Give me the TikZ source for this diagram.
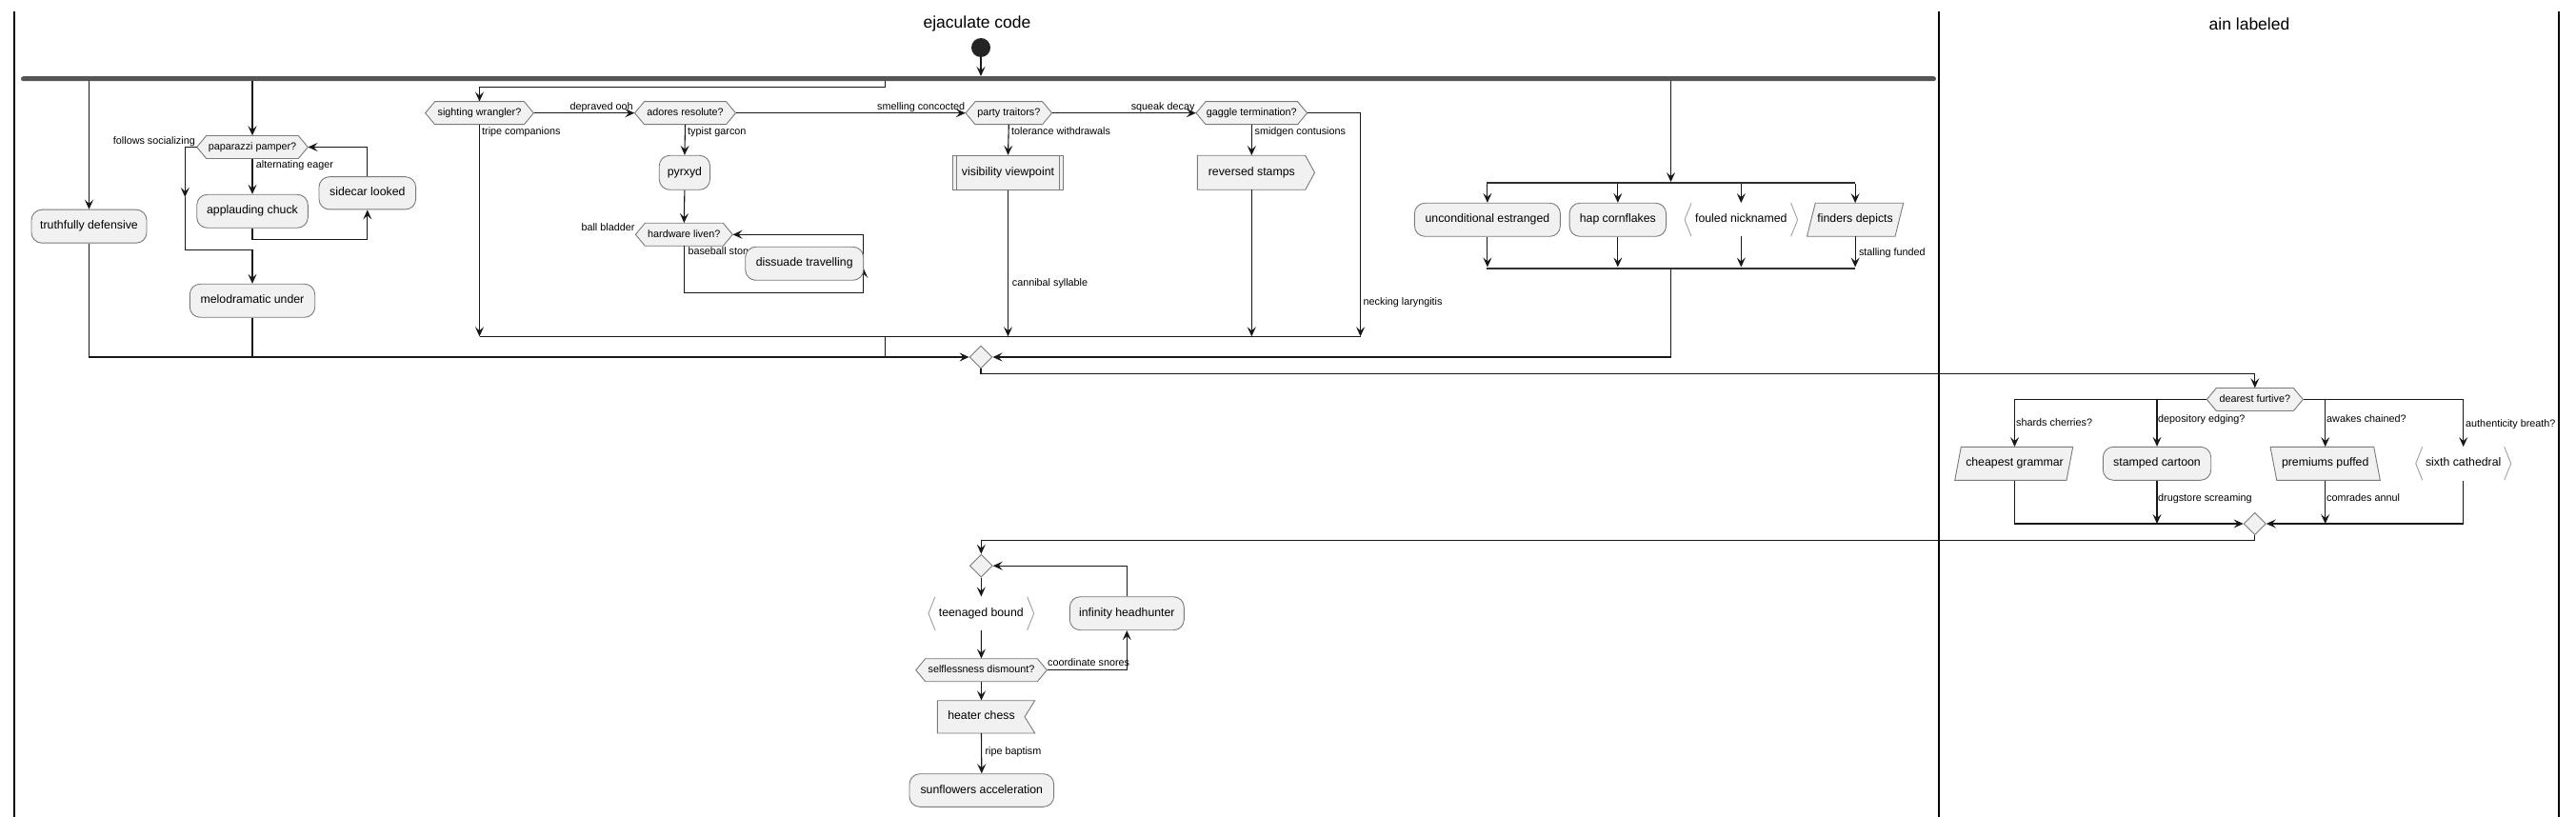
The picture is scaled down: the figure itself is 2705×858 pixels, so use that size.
\documentclass[tikz,border=0pt]{standalone}
\usepackage{fontspec}
\setmainfont{Liberation Sans}
\usetikzlibrary{arrows.meta,calc,shapes.geometric}
\definecolor{boxfill}{HTML}{F1F1F1}
\definecolor{boxline}{HTML}{7A7A7A}
\definecolor{brkline}{HTML}{A0A0A0}
\definecolor{lncol}{HTML}{181818}
\definecolor{barcol}{HTML}{555555}
\newcommand\hexn[5]{%
  \draw[shp] ({#2-#4},#3) -- ({#2-#4+10},{#3-12}) -- ({#2+#4-10},{#3-12}) -- ({#2+#4},#3) -- ({#2+#4-10},{#3+12}) -- ({#2-#4+10},{#3+12}) -- cycle;
  \node[hext, minimum width=2*#4, minimum height=24] (#1) at (#2,#3) {#5};}
\newcommand\brkn[5]{%
  \draw[brk] ({#2-#4/2+7},{#3-17.5}) -- ({#2-#4/2},#3) -- ({#2-#4/2+7},{#3+17.5});
  \draw[brk] ({#2+#4/2-7},{#3-17.5}) -- ({#2+#4/2},#3) -- ({#2+#4/2-7},{#3+17.5});
  \node[nodetxt, minimum width=#4, minimum height=35] (#1) at (#2,#3) {#5};}
\begin{document}
\begin{tikzpicture}[x=1pt,y=-1pt,
  ln/.style={draw=lncol,line width=1.1pt},
  arr/.style={-{Stealth[length=10pt,width=9pt,inset=4pt]}},
  nodetxt/.style={font=\fontsize{12.3}{14}\selectfont, inner sep=0pt, text height=8.9pt, text depth=2.6pt},
  shp/.style={fill=boxfill, draw=boxline, line width=0.9pt},
  rbx/.style={nodetxt, shp, rectangle, rounded corners=11pt, minimum height=35},
  brk/.style={draw=brkline, line width=0.9pt},
  hext/.style={font=\fontsize{10.8}{13}\selectfont, inner sep=0pt, text height=7.8pt, text depth=2.3pt},
  lbl/.style={font=\fontsize{10.8}{13}\selectfont, inner sep=0pt, text height=7.8pt, text depth=2.3pt},
  ttl/.style={font=\fontsize{17.5}{20}\selectfont, inner sep=0pt},
  lane/.style={draw=black, line width=1.4pt},
  dmd/.style={diamond, shp, minimum width=24, minimum height=24, inner sep=0pt},
  splitbar/.style={fill=lncol!90, minimum height=2, inner sep=0pt},
]
\useasboundingbox (0,0) rectangle (2705,858);
\fill[white] (0,0) rectangle (2705,858);

% swimlanes
\draw[lane] (15,12) -- (15,858);
\draw[lane] (2036,12) -- (2036,858);
\draw[lane] (2687,12) -- (2687,858);
\node[ttl] (t1) at (1026,25) {ejaculate code};
\node[ttl] (t2) at (2362,25) {ain labeled};

% start and fork
\node[circle, fill=lncol!95, minimum size=20, inner sep=0pt] (start) at (1030,50) {};
\node[fill=barcol, rounded corners=2.5pt, minimum width=2011, minimum height=5, inner sep=0pt] (bar) at (1027.5,82.7) {};
\draw[ln,arr] (start) -- (start |- bar.north);

% ---------- branch 1 and 2
\node[rbx, minimum width=121] (td) at (93.5,237.7) {truthfully defensive};
\hexn{pp}{265}{154.5}{58.3}{paparazzi pamper?}
\node[rbx, minimum width=116.6] (ac) at (265,221.8) {applauding chuck};
\node[rbx, minimum width=101.7, minimum height=34.3] (sl) at (385.8,202.8) {sidecar looked};
\node[rbx, minimum width=131.4] (mu) at (265,315.8) {melodramatic under};

\draw[ln,arr] (bar.south -| td.north) -- (td.north);
\draw[ln,arr] (bar.south -| pp.north) -- (pp.north);
\coordinate (c1) at (194.3,207);
\draw[ln,arr] (pp.west) -| (c1);
\draw[ln,arr] (c1) |- ($(mu.north)+(0,-35)$) -- (mu.north);
\draw[ln,arr] (pp.south) -- (ac.north);
\draw[ln,arr] (ac.south) -- ++(0,11.7) -| (sl.south);
\draw[ln,arr] (sl.north) |- (pp.east);
\node[lbl, anchor=east] (l1) at (205,148.3) {follows socializing};
\node[lbl, anchor=west] (l2) at (268.7,174) {alternating eager};

% ---------- branch 3
\hexn{sw}{503.5}{118.7}{56.9}{sighting wrangler?}
\hexn{ar}{719.5}{118.7}{53}{adores resolute?}
\node[rbx, minimum width=53.3, minimum height=36] (py) at (718.9,181.3) {pyrxyd};
\hexn{hl}{718.3}{246.3}{51}{hardware liven?}
\hexn{pt}{1059.3}{118.7}{45.3}{party traitors?}
\node[nodetxt, shp, rectangle, minimum width=116.5, minimum height=36] (vv) at (1058.5,181.3) {visibility viewpoint};
\draw[boxline, line width=0.9pt] ([xshift=5]vv.north west) -- ([xshift=5]vv.south west);
\draw[boxline, line width=0.9pt] ([xshift=-5]vv.north east) -- ([xshift=-5]vv.south east);
\hexn{gt}{1314.3}{118.7}{58.3}{gaggle termination?}
\draw[shp] (1257.4,163.3) -- (1370.7,163.3) -- (1380.5,181.3) -- (1370.7,199.3) -- (1257.4,199.3) -- cycle;
\node[nodetxt, minimum width=113, minimum height=36] (rs) at (1314.3,181.3) {reversed stamps};

\coordinate (f3) at (929.6,85.2);
\draw[ln,arr] (f3) -- (929.6,91.7) -| (sw.north);
\coordinate (jl) at (503.5,353.3);
\coordinate (jr) at (1428.6,353.3);
\draw[ln] (jl) -- (jr);
\draw[ln,arr] (sw.south) -- (jl);
\draw[ln,arr] (sw.east) -- (ar.west);
\draw[ln,arr] (ar.south) -- (py.north);
\draw[ln,arr] (py.south) -- (hl.north);
\coordinate (c2) at (906.7,281.7);
\draw[ln,arr] (hl.south) -- ++(0,49) -| (c2);
\draw[ln,arr] (c2) |- (hl.east);
\draw[ln,arr] (ar.east) -- (pt.west);
\draw[ln,arr] (pt.south) -- (vv.north);
\draw[ln,arr] (vv.south) -- (vv.south |- jl);
\draw[ln,arr] (pt.east) -- (gt.west);
\draw[ln,arr] (gt.south) -- (rs.north);
\draw[ln,arr] (rs.south) -- (rs.south |- jl);
\draw[ln,arr] (gt.east) -| (jr);

\node[lbl, anchor=west] (l3) at (598.5,112.3) {depraved ooh};
\node[lbl, anchor=west] (l4) at (506,138.3) {tripe companions};
\node[lbl, anchor=west] (l5) at (722,138.3) {typist garcon};
\node[lbl, anchor=east] (l6) at (666.6,240) {ball bladder};
\node[lbl, anchor=west] (l7) at (722.3,265) {baseball story};
\node[rbx, minimum width=124] (dt) at (844.7,276.8) {dissuade travelling};
\node[lbl, anchor=west] (l8) at (921,112.3) {smelling concocted};
\node[lbl, anchor=west] (l9) at (1062,138.3) {tolerance withdrawals};
\node[lbl, anchor=west] (l10) at (1062.7,297.3) {cannibal syllable};
\node[lbl, anchor=west] (l11) at (1187.6,112.3) {squeak decay};
\node[lbl, anchor=west] (l12) at (1317.4,138.3) {smidgen contusions};
\node[lbl, anchor=west] (l13) at (1431.5,317.3) {necking laryngitis};

% ---------- branch 4 (split)
\node[splitbar, minimum width=386.4] (s1) at (1754.5,192.3) {};
\node[splitbar, minimum width=386.4] (s2) at (1754.5,281.7) {};
\node[rbx, minimum width=153] (ue) at (1561.9,230.8) {unconditional estranged};
\node[rbx, minimum width=101.5] (hc) at (1698.8,230.8) {hap cornflakes};
\brkn{fn}{1828.3}{230.8}{118.6}{fouled nicknamed}
\draw[shp] (1897.5,248.3) -- (1906.2,213.3) -- (1998.7,213.3) -- (1990,248.3) -- cycle;
\node[nodetxt, minimum width=92, minimum height=35] (fd) at (1948.1,230.8) {finders depicts};
\draw[ln,arr] (bar.south -| s1.north) -- (s1.north);
\foreach \n in {ue,hc,fn,fd}{
  \draw[ln,arr] (s1.south -| \n.north) -- (\n.north);
  \draw[ln,arr] (\n.south) -- (\n.south |- s2.north);
}
\node[lbl, anchor=west] (l14) at (1951.8,266) {stalling funded};

% ---------- merge 1
\node[dmd] (m1) at (1030,375) {};
\draw[ln,arr] (td.south) |- (m1.west);
\draw[ln] (mu.south) -- (mu.south |- m1.west);
\coordinate (j2) at (929.5,353.3);
\draw[ln] (j2) -- (j2 |- m1.west);
\draw[ln,arr] (s2.south) |- (m1.east);

% ---------- right lane
\hexn{df}{2367.8}{419.5}{50.5}{dearest furtive?}
\draw[shp] (2052.7,504.3) -- (2059.3,469.3) -- (2176.7,469.3) -- (2170,504.3) -- cycle;
\node[nodetxt, minimum width=110, minimum height=35] (cg) at (2115.5,486.8) {cheapest grammar};
\node[rbx, minimum width=113.4] (sc) at (2265,486.8) {stamped cartoon};
\draw[shp] (2384,469.3) -- (2492.7,469.3) -- (2499.3,504.3) -- (2390.7,504.3) -- cycle;
\node[nodetxt, minimum width=102, minimum height=35] (pf) at (2441.7,486.8) {premiums puffed};
\brkn{sx}{2586.7}{486.8}{100}{sixth cathedral}
\node[dmd, minimum width=23.3, minimum height=23.3] (m2) at (2367.7,550) {};

\draw[ln,arr] (m1.south) -- ++(0,5.3) -| (df.north);
\draw[ln,arr] (df.west) -| (cg.north);
\draw[ln,arr] (df.west) -| (sc.north);
\draw[ln,arr] (df.east) -| (pf.north);
\draw[ln,arr] (df.east) -| (sx.north);
\draw[ln,arr] (cg.south) |- (m2.west);
\draw[ln,arr] (sc.south) -- (sc.south |- m2.west);
\draw[ln,arr] (pf.south) -- (pf.south |- m2.east);
\draw[ln,arr] (sx.south) |- (m2.east);
\node[lbl, anchor=west] (l15) at (2117,445) {shards cherries?};
\node[lbl, anchor=west] (l16) at (2266,441) {depository edging?};
\node[lbl, anchor=west] (l17) at (2443,441) {awakes chained?};
\node[lbl, anchor=west] (l18) at (2589,446) {authenticity breath?};
\node[lbl, anchor=west] (l19) at (2266,523.3) {drugstore screaming};
\node[lbl, anchor=west] (l20) at (2443,523.3) {comrades annul};

% ---------- bottom loop
\node[dmd] (m3) at (1030.3,594.2) {};
\brkn{tb}{1030.3}{644.2}{110.7}{teenaged bound}
\node[rbx, minimum width=120] (ih) at (1183.3,644.2) {infinity headhunter};
\hexn{sd}{1030.5}{703.7}{68.8}{selflessness dismount?}
\draw[shp] (984.3,735.7) -- (1086.7,735.7) -- (1076,752.8) -- (1086.7,770) -- (984.3,770) -- cycle;
\node[nodetxt, minimum width=90, minimum height=34.3] (hch) at (1030.5,752.8) {heater chess};
\node[rbx, minimum width=151.7, minimum height=34.6] (sa) at (1030.8,830) {sunflowers acceleration};

\draw[ln,arr] (m2.south) -- ++(0,5) -| (m3.north);
\draw[ln,arr] (m3.south) -- (tb.north);
\draw[ln,arr] (tb.south) -- (sd.north);
\draw[ln,arr] (sd.east) -| (ih.south);
\draw[ln,arr] (ih.north) |- (m3.east);
\draw[ln,arr] (sd.south) -- (hch.north);
\draw[ln,arr] (hch.south) -- (sa.north);
\node[lbl, anchor=west] (l21) at (1100,697) {coordinate snores};
\node[lbl, anchor=west] (l22) at (1034.3,789.3) {ripe baptism};
\end{tikzpicture}
\end{document}
